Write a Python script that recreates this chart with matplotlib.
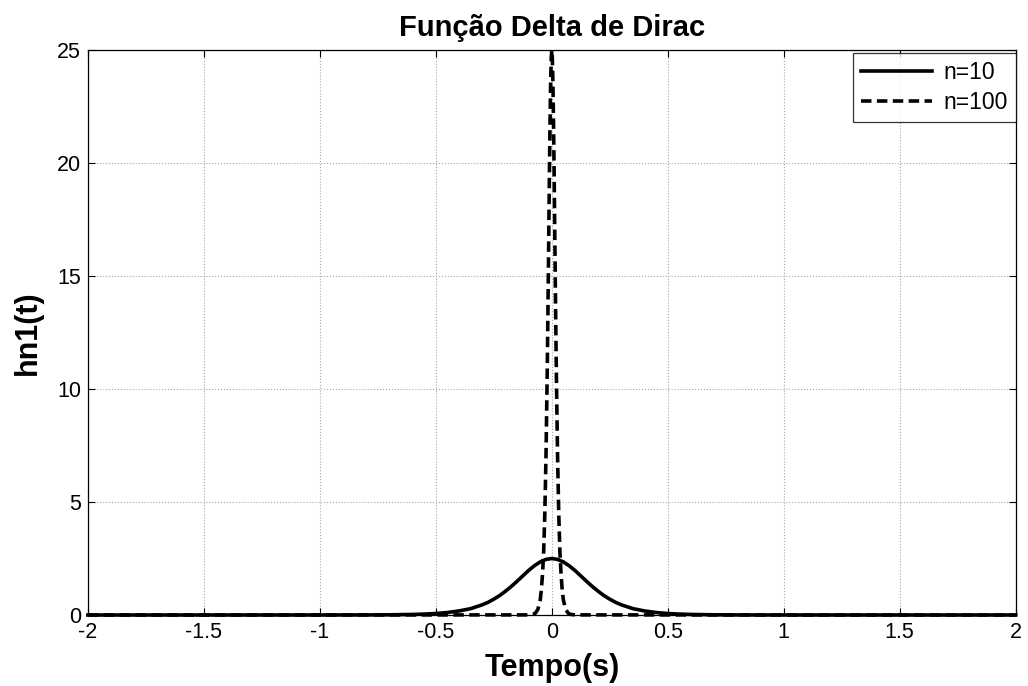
import matplotlib
matplotlib.use("Agg")
import matplotlib.pyplot as plt

plt.rcParams['font.family'] = ['Liberation Sans', 'DejaVu Sans']

# values (symmetric about t = 0)
t10_pos = [0.0, 0.025, 0.05, 0.075, 0.1, 0.125, 0.15, 0.175, 0.2, 0.225, 0.25, 0.275, 0.3,
           0.35, 0.4, 0.45, 0.5, 0.55, 0.6, 0.7, 0.8, 1.0, 2.0]
h10_pos = [2.50, 2.46, 2.35, 2.18, 1.97, 1.73, 1.49, 1.26, 1.05, 0.86, 0.70, 0.56, 0.45,
           0.28, 0.18, 0.11, 0.066, 0.04, 0.025, 0.009, 0.003, 0.0005, 0.0]

t100_pos = [0.0, 0.0025, 0.005, 0.0075, 0.01, 0.0125, 0.015, 0.0175, 0.02, 0.025, 0.03,
            0.035, 0.04, 0.045, 0.05, 0.06, 0.07, 0.08, 0.1, 2.0]
h100_pos = [25.0, 24.6, 23.5, 21.8, 19.7, 17.3, 14.9, 12.6, 10.5, 7.0, 4.5,
            2.8, 1.8, 1.1, 0.66, 0.25, 0.09, 0.03, 0.005, 0.0]

t10 = [-v for v in t10_pos[::-1]] + t10_pos[1:]
h10 = h10_pos[::-1] + h10_pos[1:]
t100 = [-v for v in t100_pos[::-1]] + t100_pos[1:]
h100 = h100_pos[::-1] + h100_pos[1:]

labels = ['n=10', 'n=100']
xticks = [-2, -1.5, -1, -0.5, 0, 0.5, 1, 1.5, 2]
xticklabels = ['-2', '-1.5', '-1', '-0.5', '0', '0.5', '1', '1.5', '2']
yticks = [0, 5, 10, 15, 20, 25]

fig = plt.figure(figsize=(10.28, 6.86), dpi=100)
ax = fig.add_axes([0.0855, 0.1035, 0.9025, 0.8235])

ax.plot(t10, h10, color='black', lw=2.6, label=labels[0], clip_on=False, zorder=3)
ax.plot(t100, h100, color='black', lw=2.6, ls=(0, (2.9, 1.5)), label=labels[1],
        clip_on=False, zorder=3)

ax.set_xlim(-2, 2)
ax.set_ylim(0, 25)
ax.set_xticks(xticks)
ax.set_xticklabels(xticklabels)
ax.set_yticks(yticks)
ax.grid(True, color='#a8a8a8', ls=':', lw=0.8)
ax.set_axisbelow(True)
ax.tick_params(direction='in', length=5, width=0.8, top=True, right=True, labelsize=15.5,
               pad=5)
for s in ax.spines.values():
    s.set_linewidth(0.9)

ax.set_title('Função Delta de Dirac', fontsize=21, fontweight='bold', pad=10)
ax.set_xlabel('Tempo(s)', fontsize=22, fontweight='bold', labelpad=7)
ax.set_ylabel('hn1(t)', fontsize=22, fontweight='bold', labelpad=10)

leg = ax.legend(loc='upper right', bbox_to_anchor=(1.0, 0.994), fontsize=16.5,
                frameon=True, fancybox=False, edgecolor='black', borderaxespad=0.0,
                handlelength=3.1, handletextpad=0.5, borderpad=0.35, labelspacing=0.3)
leg.get_frame().set_linewidth(0.9)

fig.savefig('out.png', dpi=100)
